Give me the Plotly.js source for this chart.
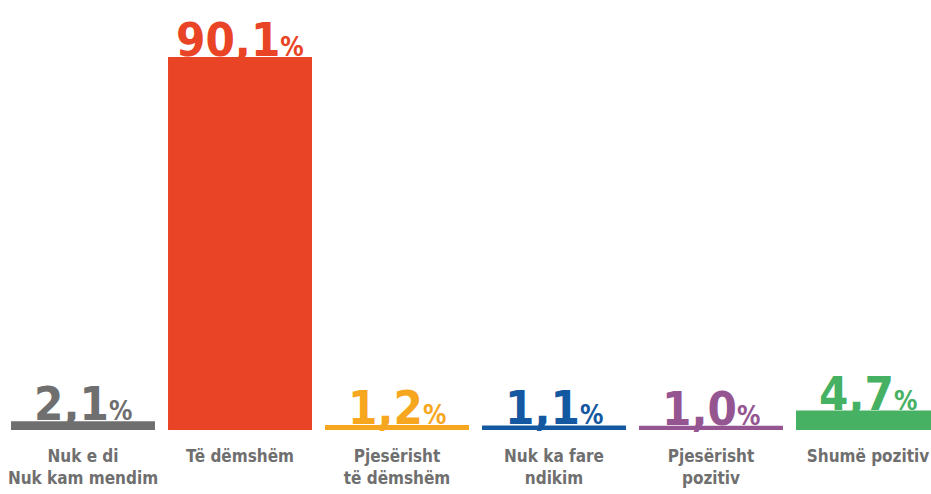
<!DOCTYPE html>
<html>
<head>
<meta charset="utf-8">
<script src="https://cdn.plot.ly/plotly-3.0.1.min.js"></script>
<style>html,body{margin:0;padding:0;background:#fff;}#chart{width:931px;height:494px;}</style>
</head>
<body>
<div id="chart"></div>
<script>
const categories = ["Nuk e di<br>Nuk kam mendim", "Të dëmshëm", "Pjesërisht<br>të dëmshëm", "Nuk ka fare<br>ndikim", "Pjesërisht<br>pozitiv", "Shumë pozitiv"];
const values = [2.1, 90.1, 1.2, 1.1, 1.0, 4.7];
const valueLabels = ["2,1", "90,1", "1,2", "1,1", "1,0", "4,7"];
const colors = ["#6f6f6f", "#e94425", "#f6a71f", "#1458a2", "#955591", "#46b162"];

const FONT = "'Liberation Sans Narrow', 'DejaVu Sans Condensed', 'Arial Narrow', sans-serif";

const trace = {
  type: 'bar',
  x: categories,
  y: values,
  marker: {color: colors},
  hoverinfo: 'none'
};

const annotations = categories.map((c, i) => ({
  x: c,
  y: values[i],
  xref: 'x', yref: 'y',
  text: valueLabels[i] + "<span style='font-size:26px'>%</span>",
  showarrow: false,
  xanchor: 'center',
  yanchor: 'bottom',
  yshift: -12,
  font: {family: FONT, size: 47, color: colors[i], weight: 'bold'}
}));

const layout = {
  width: 931, height: 494,
  margin: {l: 0, r: 0, t: 0, b: 64, pad: 0},
  paper_bgcolor: '#fff', plot_bgcolor: '#fff',
  bargap: 0.083,
  showlegend: false,
  xaxis: {
    type: 'category',
    range: [-0.5287, 5.4013],
    tickangle: 0,
    ticklabelstandoff: 14,
    showgrid: false, zeroline: false, showline: false, ticks: '',
    tickfont: {family: FONT, size: 17, color: '#6f6f6f', weight: 'bold'},
    fixedrange: true
  },
  yaxis: {
    range: [0, 103.87],
    visible: false,
    showgrid: false, zeroline: false,
    fixedrange: true
  },
  annotations: annotations
};

Plotly.newPlot('chart', [trace], layout, {displayModeBar: false, staticPlot: true});
</script>
</body>
</html>
